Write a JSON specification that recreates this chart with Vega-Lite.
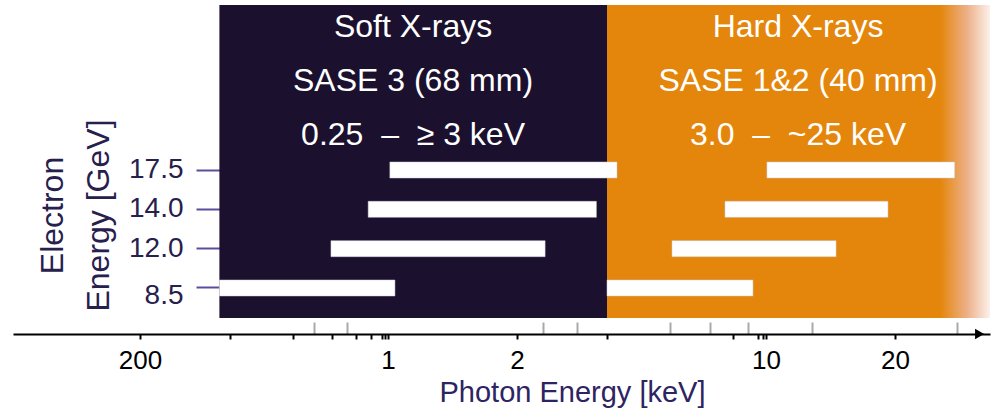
{
  "$schema": "https://vega.github.io/schema/vega-lite/v6.json",
  "width": 977,
  "height": 313,
  "autosize": {"type": "none"},
  "padding": {"left": 13, "top": 5, "right": 6, "bottom": 96},
  "background": "white",
  "config": {
    "view": {"stroke": null},
    "font": "Liberation Sans",
    "axis": {"labelFont": "Liberation Sans", "titleFont": "Liberation Sans", "grid": false}
  },
  "datasets": {
    "soft": [{"region": "Soft X-rays", "from": 0.286, "to": 3}],
    "hard": [{"region": "Hard X-rays", "from": 3, "to": 30}],
    "ranges": [
      {"electron": "17.5", "undulator": "SASE 3", "from": 1.01, "to": 3.14},
      {"electron": "17.5", "undulator": "SASE 1&2", "from": 10.05, "to": 25.8},
      {"electron": "14.0", "undulator": "SASE 3", "from": 0.68, "to": 2.86},
      {"electron": "14.0", "undulator": "SASE 1&2", "from": 5.63, "to": 19.26},
      {"electron": "12.0", "undulator": "SASE 3", "from": 0.497, "to": 2.27},
      {"electron": "12.0", "undulator": "SASE 1&2", "from": 4.045, "to": 14.57},
      {"electron": "8.5", "undulator": "SASE 3", "from": 0.286, "to": 1.038},
      {"electron": "8.5", "undulator": "SASE 1&2", "from": 3.0, "to": 7.48}
    ],
    "labels": [
      {"energy": 1.144, "line": 1, "text": "Soft X-rays"},
      {"energy": 1.144, "line": 2, "text": "SASE 3 (68 mm)"},
      {"energy": 1.144, "line": 3, "text": "0.25\u00a0 –\u00a0 ≥ 3 keV"},
      {"energy": 11.88, "line": 1, "text": "Hard X-rays"},
      {"energy": 11.88, "line": 2, "text": "SASE 1&2 (40 mm)"},
      {"energy": 11.88, "line": 3, "text": "3.0\u00a0 –\u00a0 ~25 keV"}
    ],
    "arrow": [{"energy": 28.7, "line": 6.5}]
  },
  "resolve": {"scale": {"y": "independent"}},
  "layer": [
    {
      "data": {"name": "soft"},
      "mark": {"type": "rect", "color": "#1b112f"},
      "encoding": {
        "x": {
          "field": "from", "type": "quantitative",
          "scale": {
            "type": "log", "nice": false, "zero": false,
            "domain": [0.15, 0.2, 0.3, 0.4, 0.5, 0.6, 0.7, 0.8, 0.9, 1, 2, 3, 4, 5, 6, 7, 8, 9, 10, 20, 30],
            "range": [0, 127, 217, 280, 319, 343, 358, 369, 372, 375, 504, 594, 657, 697, 720, 735, 745, 750, 753, 882, 977]
          },
          "axis": {
            "title": "Photon Energy [keV]",
            "values": [0.2, 0.3, 0.4, 0.45, 0.5, 0.56, 0.6, 0.7, 0.8, 0.9, 1, 2, 2.25, 2.62, 3, 4, 5, 6, 7, 8, 9, 10, 12.8, 20, 26.1],
            "offset": 16,
            "domainColor": "#000000",
            "domainWidth": 2,
            "tickColor": {"condition": {"test": "indexof([0.45, 0.56, 2.25, 2.62, 4, 5, 7, 12.8, 26.1], datum.value) >= 0", "value": "#a9a9a9"}, "value": "#000000"},
            "tickSize": {"condition": {"test": "indexof([0.45, 0.56, 2.25, 2.62, 4, 5, 7, 12.8, 26.1], datum.value) >= 0", "value": -12}, "value": 5},
            "tickWidth": 2,
            "labelExpr": "datum.value == 0.2 ? '200' : datum.value == 1 ? '1' : datum.value == 2 ? '2' : datum.value == 10 ? '10' : datum.value == 20 ? '20' : ''",
            "labelFontSize": 26,
            "labelColor": "#000000",
            "labelPadding": 8,
            "labelFlush": false,
            "labelOverlap": false,
            "titleFontSize": 29,
            "titleFontWeight": "normal",
            "titleColor": "#2d2461",
            "titleX": 559,
            "titleY": 67,
            "titleBaseline": "alphabetic",
            "titleAlign": "center"
          }
        },
        "x2": {"field": "to"}
      }
    },
    {
      "data": {"name": "hard"},
      "mark": {
        "type": "rect",
        "color": {
          "gradient": "linear", "x1": 0, "x2": 1, "y1": 0, "y2": 0,
          "stops": [
            {"offset": 0, "color": "#e4860c"},
            {"offset": 0.87, "color": "#e4860c"},
            {"offset": 0.94, "color": "#edb088"},
            {"offset": 1, "color": "#fcf1eb"}
          ]
        }
      },
      "encoding": {
        "x": {
          "field": "from", "type": "quantitative",
          "scale": {
            "type": "log", "nice": false, "zero": false,
            "domain": [0.15, 0.2, 0.3, 0.4, 0.5, 0.6, 0.7, 0.8, 0.9, 1, 2, 3, 4, 5, 6, 7, 8, 9, 10, 20, 30],
            "range": [0, 127, 217, 280, 319, 343, 358, 369, 372, 375, 504, 594, 657, 697, 720, 735, 745, 750, 753, 882, 977]
          }
        },
        "x2": {"field": "to"}
      }
    },
    {
      "data": {"name": "ranges"},
      "mark": {"type": "bar", "height": 16, "color": "#ffffff", "stroke": "#cfcbd8", "strokeWidth": 0.5},
      "encoding": {
        "x": {
          "field": "from", "type": "quantitative",
          "scale": {
            "type": "log", "nice": false, "zero": false,
            "domain": [0.15, 0.2, 0.3, 0.4, 0.5, 0.6, 0.7, 0.8, 0.9, 1, 2, 3, 4, 5, 6, 7, 8, 9, 10, 20, 30],
            "range": [0, 127, 217, 280, 319, 343, 358, 369, 372, 375, 504, 594, 657, 697, 720, 735, 745, 750, 753, 882, 977]
          }
        },
        "x2": {"field": "to"},
        "y": {
          "field": "electron", "type": "nominal",
          "sort": ["17.5", "14.0", "12.0", "8.5"],
          "scale": {"type": "band", "domain": ["17.5", "14.0", "12.0", "8.5"], "range": [145.35, 302.65], "paddingInner": 0, "paddingOuter": 0},
          "axis": {
            "title": ["Electron", "Energy [GeV]"],
            "offset": -207,
            "domain": false,
            "tickSize": 24,
            "tickWidth": 2,
            "tickColor": "#5d4c9c",
            "labelFontSize": 28,
            "labelColor": "#27204d",
            "labelPadding": 13,
            "labelOffset": {"condition": {"test": "datum.value === '8.5'", "value": 8}, "value": 0},
            "titleFontSize": 32,
            "titleFontWeight": "normal",
            "titleColor": "#27204d",
            "titleLineHeight": 46,
            "titleAngle": -90,
            "titleX": -158,
            "titleY": 210,
            "titleBaseline": "alphabetic",
            "titleAlign": "center"
          }
        }
      }
    },
    {
      "data": {"name": "labels"},
      "mark": {"type": "text", "color": "#ffffff", "fontSize": 32, "font": "Liberation Sans", "align": "center", "baseline": "alphabetic"},
      "encoding": {
        "x": {
          "field": "energy", "type": "quantitative",
          "scale": {
            "type": "log", "nice": false, "zero": false,
            "domain": [0.15, 0.2, 0.3, 0.4, 0.5, 0.6, 0.7, 0.8, 0.9, 1, 2, 3, 4, 5, 6, 7, 8, 9, 10, 20, 30],
            "range": [0, 127, 217, 280, 319, 343, 358, 369, 372, 375, 504, 594, 657, 697, 720, 735, 745, 750, 753, 882, 977]
          }
        },
        "y": {"field": "line", "type": "quantitative", "scale": {"domain": [0.407, 6.204], "reverse": true, "nice": false, "zero": false}, "axis": null},
        "text": {"field": "text"}
      }
    },
    {
      "data": {"name": "arrow"},
      "mark": {"type": "point", "shape": "triangle-right", "filled": true, "color": "#000000", "size": 110, "opacity": 1},
      "encoding": {
        "x": {
          "field": "energy", "type": "quantitative",
          "scale": {
            "type": "log", "nice": false, "zero": false,
            "domain": [0.15, 0.2, 0.3, 0.4, 0.5, 0.6, 0.7, 0.8, 0.9, 1, 2, 3, 4, 5, 6, 7, 8, 9, 10, 20, 30],
            "range": [0, 127, 217, 280, 319, 343, 358, 369, 372, 375, 504, 594, 657, 697, 720, 735, 745, 750, 753, 882, 977]
          }
        },
        "y": {"field": "line", "type": "quantitative", "scale": {"domain": [0.407, 6.204], "reverse": true, "nice": false, "zero": false}, "axis": null}
      }
    }
  ]
}
